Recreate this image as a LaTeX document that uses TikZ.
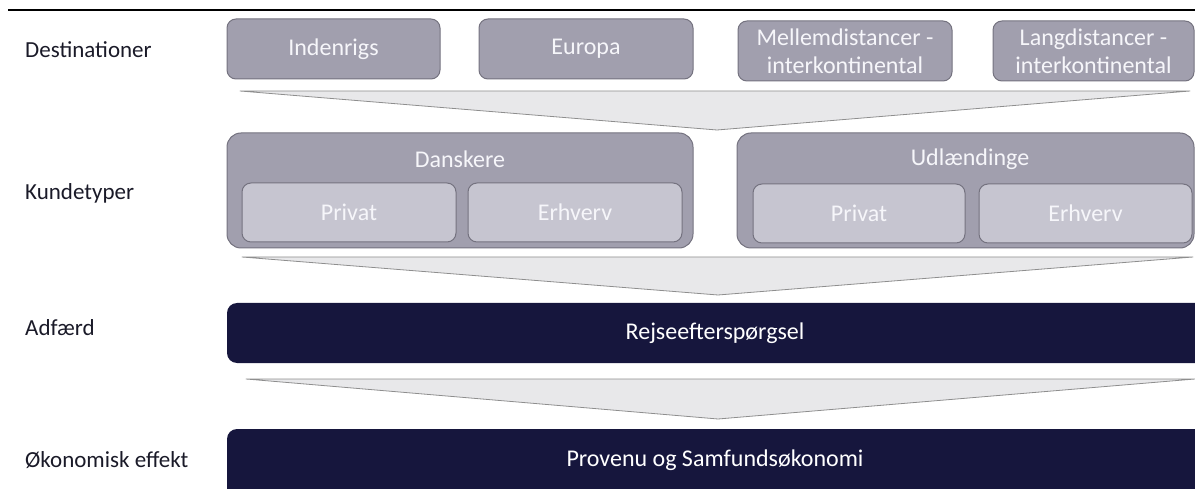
\documentclass[tikz,border=0pt]{standalone}
\usepackage{fontspec}
\setmainfont{Carlito}
\definecolor{labelc}{HTML}{1A1A28}
\definecolor{boxfill}{HTML}{A19FAE}
\definecolor{boxborder}{HTML}{74727F}
\definecolor{innerfill}{HTML}{C6C5D0}
\definecolor{boxtext}{HTML}{F6F6FA}
\definecolor{navy}{HTML}{16163D}
\definecolor{chevfill}{HTML}{E8E8EA}
\definecolor{chevline}{HTML}{8E8E8E}
\begin{document}
\begin{tikzpicture}[x=1pt,y=-1pt,
  lbl/.style={anchor=west,text=labelc,inner sep=0pt,font=\fontsize{23}{27}\selectfont},
  txt/.style={text=boxtext,align=center,font=\fontsize{24}{28}\selectfont},
  destbox/.style={draw=boxborder,fill=boxfill,line width=1pt,rounded corners=9pt,
    minimum height=60pt,inner sep=0pt,txt},
  groupbox/.style={draw=boxborder,fill=boxfill,line width=1pt,rounded corners=14pt,
    minimum height=115pt,inner sep=0pt},
  innerbox/.style={draw=boxborder,fill=innerfill,line width=1pt,rounded corners=9pt,
    minimum height=59pt,inner sep=0pt,txt},
  chev/.style={fill=chevfill,draw=chevline,line width=0.8pt,line join=round},
  bartext/.style={txt,text=white,minimum height=60pt,inner sep=0pt}]
\useasboundingbox (0,0) rectangle (1195,489);
% top rule
\draw[line width=2.5pt,black] (8,10) coordinate (tl) -- (1195,10) coordinate (tr);
% left labels
\node[lbl] (l1) at (25,50) {Destinationer};
\node[lbl] (l2) at (25,193) {Kundetyper};
\node[lbl] (l3) at (25,328) {Adfærd};
\node[lbl] (l4) at (25,460) {Økonomisk effekt};
% destinations
\node[destbox,minimum width=213pt] (ind) at (333.5,49) {Indenrigs};
\node[destbox,minimum width=214pt] (eur) at (586,49) {Europa};
\node[destbox,minimum width=214pt] (mel) at (845,51) {Mellemdistancer -\\interkontinental};
\node[destbox,minimum width=201pt] (lan) at (1093.5,51) {Langdistancer -\\interkontinental};
% chevron 1
\draw[chev] (240,91) -- (1190,91) -- (717,130) -- cycle;
% customer groups
\node[groupbox,minimum width=466pt] (dk) at (460,190.5) {};
\node[txt] (dkt) at (460,159) {Danskere};
\node[innerbox,minimum width=214pt] (dkp) at (349,212.5) {Privat};
\node[innerbox,minimum width=214pt] (dke) at (575,212.5) {Erhverv};
\node[groupbox,minimum width=457pt] (ud) at (965.5,190.5) {};
\node[txt] (udt) at (970,159) {Udlændinge};
\node[innerbox,minimum width=212pt] (udp) at (859,213.5) {Privat};
\node[innerbox,minimum width=213pt] (ude) at (1085.5,213.5) {Erhverv};
% chevron 2
\draw[chev] (242,257) -- (1193,257) -- (718,295) -- cycle;
% dark bars
\begin{scope}
\clip (0,0) rectangle (1195,489);
\fill[navy,rounded corners=10pt] (227,303) rectangle (1215,363);
\fill[navy,rounded corners=10pt] (227,429) rectangle (1215,505);
\end{scope}
\node[bartext] (rej) at (715,333) {Rejseefterspørgsel};
% chevron 3
\draw[chev] (246,379) -- (1195,379) -- (718,419) -- cycle;
\node[bartext] (pro) at (715,460) {Provenu og Samfundsøkonomi};
\end{tikzpicture}
\end{document}
